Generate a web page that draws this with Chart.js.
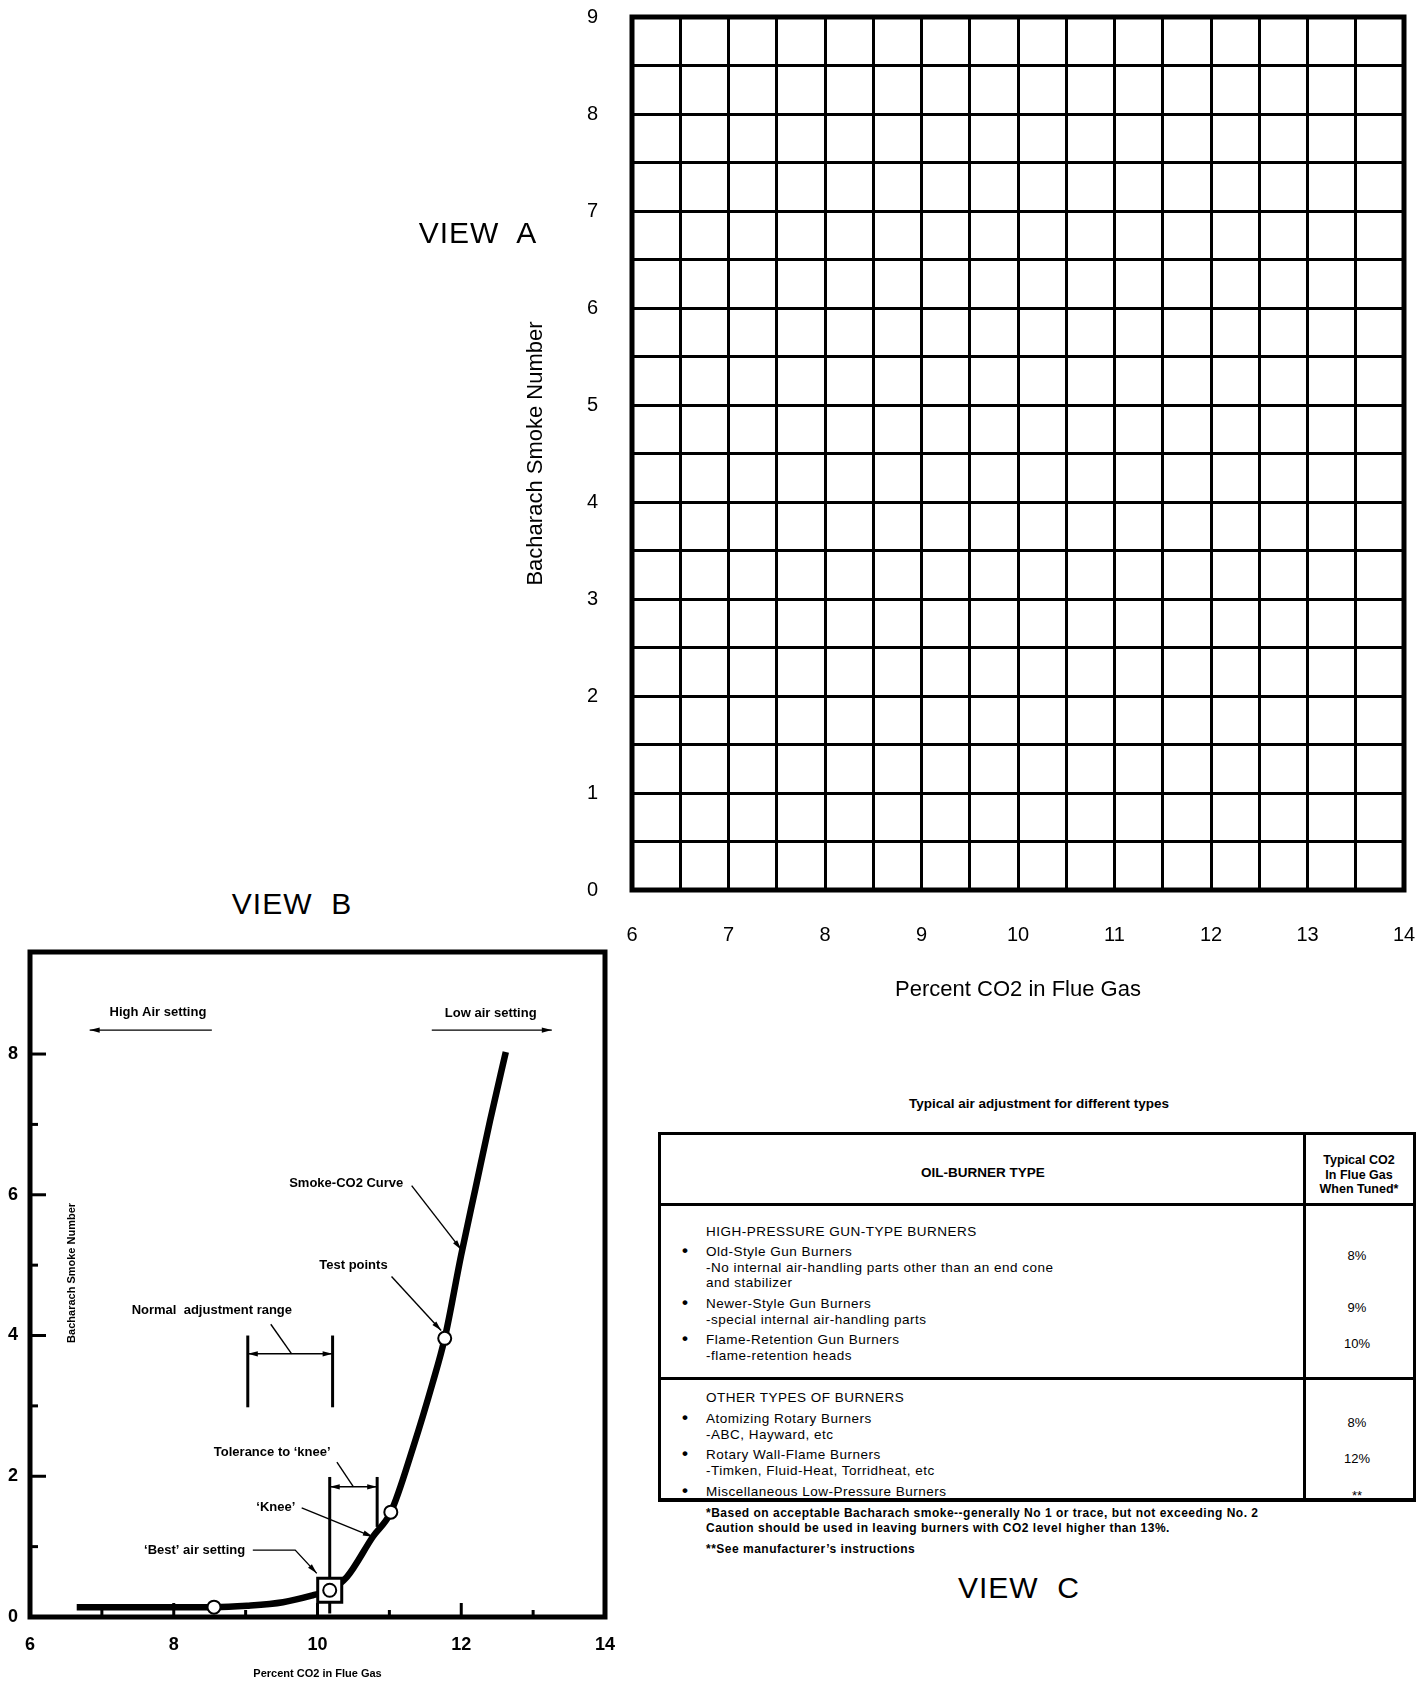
<!DOCTYPE html>
<html>
<head>
<meta charset="utf-8">
<title>Smoke-CO2 adjustment</title>
<script src="https://cdn.jsdelivr.net/npm/chart.js@4.4.1/dist/chart.umd.min.js"></script>
<style>
  body { margin:0; background:#fff; width:1425px; height:1685px; position:relative; overflow:hidden;
         font-family:"Liberation Sans", Arial, sans-serif; color:#000; }
  .view { position:absolute; font-size:30px; transform:translate(-50%,-50%); white-space:pre; letter-spacing:1px; }
  .t { position:absolute; white-space:pre; transform:translateY(-50%); font-size:13.5px; letter-spacing:0.5px; }
  .c { transform:translate(-50%,-50%); text-align:center; letter-spacing:0; }
  .b { font-weight:bold; }
  .line { position:absolute; background:#000; }
  #chartA { position:absolute; left:480px; top:0; }
  #chartB { position:absolute; left:0; top:930px; }
</style>
</head>
<body>
<canvas id="chartA" width="945" height="1010"></canvas>
<canvas id="chartB" width="640" height="755"></canvas>
<div class="view" style="left:478px;top:233px">VIEW  A</div>
<div class="view" style="left:292px;top:904px">VIEW  B</div>
<div class="view" style="left:1019px;top:1588px">VIEW  C</div>
<div id="table"></div>
<script>
// axis ticks
const co2Ticks = [6, 7, 8, 9, 10, 11, 12, 13, 14];
const smokeTicks = [0, 1, 2, 3, 4, 5, 6, 7, 8, 9];

// smoke-CO2 curve (view B)
const curveCo2   = [6.65, 8.56, 9.02, 9.52, 9.94, 10.17, 10.41, 10.77, 11.02, 11.33, 11.6, 11.77, 12.0, 12.2, 12.4, 12.62];
const curveSmoke = [0.14, 0.14, 0.16, 0.21, 0.31, 0.38, 0.57, 1.14, 1.49, 2.41, 3.32, 3.96, 5.15, 6.1, 7.05, 8.03];
const testCo2   = [8.56, 11.02, 11.77];
const testSmoke = [0.14, 1.49, 3.96];
const bestCo2   = [10.17];
const bestSmoke = [0.38];

// table (view C)
const tableTitle = 'Typical air adjustment for different types';
const groupNames = ['HIGH-PRESSURE GUN-TYPE BURNERS', 'OTHER TYPES OF BURNERS'];
const burnerNames = ['Old-Style Gun Burners', 'Newer-Style Gun Burners', 'Flame-Retention Gun Burners',
                     'Atomizing Rotary Burners', 'Rotary Wall-Flame Burners', 'Miscellaneous Low-Pressure Burners'];
const burnerNotes = [['-No internal air-handling parts other than an end cone', 'and stabilizer'],
                     ['-special internal air-handling parts'], ['-flame-retention heads'],
                     ['-ABC, Hayward, etc'], ['-Timken, Fluid-Heat, Torridheat, etc'], []];
const tunedCo2 = ['8%', '9%', '10%', '8%', '12%', '**'];
const footnotes = ['*Based on acceptable Bacharach smoke--generally No 1 or trace, but not exceeding No. 2',
                   'Caution should be used in leaving burners with CO2 level higher than 13%.',
                   '**See manufacturer\u2019s instructions'];

const FONT = '"Liberation Sans", Arial, sans-serif';
Chart.defaults.font.family = FONT;
Chart.defaults.color = '#000';

// frame round the plot area
const framePlugin = {
  id: 'frame',
  afterDraw(chart, args, opts) {
    const { left, top, right, bottom } = chart.chartArea;
    const ctx = chart.ctx;
    ctx.save();
    ctx.strokeStyle = '#000';
    ctx.lineWidth = opts.width || 5;
    ctx.strokeRect(left, top, right - left, bottom - top);
    ctx.restore();
  }
};

// ---------- VIEW A : empty grid ----------
new Chart(document.getElementById('chartA'), {
  type: 'scatter',
  data: { datasets: [] },
  plugins: [framePlugin],
  options: {
    responsive: false, animation: false, devicePixelRatio: 1,
    layout: { padding: { top: 17, right: 21, left: 0, bottom: 0 } },
    plugins: { legend: { display: false }, tooltip: { enabled: false }, frame: { width: 5 } },
    scales: {
      x: {
        type: 'linear', min: co2Ticks[0], max: co2Ticks[co2Ticks.length - 1],
        afterFit: s => { s.height = 120; s.paddingLeft = 0; s.paddingRight = 0; },
        grid: { color: '#000', lineWidth: 3, drawTicks: false },
        border: { display: false },
        ticks: { stepSize: 0.5, autoSkip: false, padding: 33, font: { size: 20 },
                 callback: v => co2Ticks.includes(v) ? v : '' },
        title: { display: true, text: 'Percent CO2 in Flue Gas', font: { size: 22 }, padding: { top: 0, bottom: 7 } }
      },
      y: {
        min: smokeTicks[0], max: smokeTicks[smokeTicks.length - 1],
        afterFit: s => { s.width = 152; s.paddingTop = 0; s.paddingBottom = 0; },
        grid: { color: '#000', lineWidth: 3, drawTicks: false },
        border: { display: false },
        ticks: { stepSize: 0.5, autoSkip: false, padding: 34, font: { size: 20 },
                 callback: v => smokeTicks.includes(v) ? v : '' },
        title: { display: true, text: 'Bacharach Smoke Number', font: { size: 22 }, padding: { top: 43, bottom: 0 } }
      }
    }
  }
});

// ---------- VIEW B : smoke-CO2 curve ----------
const notes = [
  { text: 'High Air setting', x: 7.78, y: 8.59 },
  { text: 'Low air setting', x: 12.41, y: 8.58 },
  { text: 'Smoke-CO2 Curve', x: 10.4, y: 6.16 },
  { text: 'Test points', x: 10.5, y: 4.99 },
  { text: 'Normal  adjustment range', x: 8.53, y: 4.36 },
  { text: 'Tolerance to \u2018knee\u2019', x: 9.37, y: 2.34 },
  { text: '\u2018Knee\u2019', x: 9.42, y: 1.56 },
  { text: '\u2018Best\u2019 air setting', x: 8.29, y: 0.95 }
];
const leaders = [
  { pts: [[8.53, 8.34], [6.83, 8.34]], end: true },
  { pts: [[11.59, 8.34], [13.26, 8.34]], end: true },
  { pts: [[11.31, 6.13], [12.0, 5.22]], end: true },
  { pts: [[11.03, 4.84], [11.72, 4.07]], end: true },
  { pts: [[9.35, 4.16], [9.64, 3.74]] },
  { pts: [[9.03, 3.74], [10.21, 3.74]], start: true, end: true },
  { pts: [[10.27, 2.2], [10.5, 1.85]] },
  { pts: [[10.17, 1.85], [10.83, 1.85]], start: true, end: true },
  { pts: [[9.78, 1.55], [10.77, 1.14]], end: true },
  { pts: [[9.1, 0.95], [9.69, 0.95], [9.99, 0.62]], end: true }
];
const brackets = [
  [[9.03, 4.0], [9.03, 2.98]],
  [[10.21, 4.0], [10.21, 2.98]],
  [[10.83, 1.99], [10.83, 1.28]],
  [[10.17, 1.99], [10.17, 0.4]],
  [[10.17, 0.22], [10.17, 0.05]]
];

function arrowHead(ctx, x1, y1, x2, y2) {
  const a = Math.atan2(y2 - y1, x2 - x1);
  const len = 10, w = 2.6;
  ctx.beginPath();
  ctx.moveTo(x2, y2);
  ctx.lineTo(x2 - len * Math.cos(a) + w * Math.sin(a), y2 - len * Math.sin(a) - w * Math.cos(a));
  ctx.lineTo(x2 - len * Math.cos(a) - w * Math.sin(a), y2 - len * Math.sin(a) + w * Math.cos(a));
  ctx.closePath();
  ctx.fill();
}

const notesPlugin = {
  id: 'notes',
  beforeDatasetsDraw(chart) {
    const { ctx, scales: { x, y } } = chart;
    ctx.save();
    ctx.strokeStyle = '#000';
    ctx.lineWidth = 3;
    brackets.forEach(b => {
      ctx.beginPath();
      ctx.moveTo(x.getPixelForValue(b[0][0]), y.getPixelForValue(b[0][1]));
      ctx.lineTo(x.getPixelForValue(b[1][0]), y.getPixelForValue(b[1][1]));
      ctx.stroke();
    });
    // inside ticks
    const a = chart.chartArea;
    for (let v = 1; v <= 8; v++) {
      const py = y.getPixelForValue(v);
      ctx.beginPath(); ctx.moveTo(a.left, py); ctx.lineTo(a.left + (v % 2 ? 8 : 16), py); ctx.stroke();
    }
    for (let v = 7; v <= 13; v++) {
      const px = x.getPixelForValue(v);
      ctx.beginPath(); ctx.moveTo(px, a.bottom); ctx.lineTo(px, a.bottom - (v % 2 ? 7 : 14)); ctx.stroke();
    }
    ctx.restore();
  },
  afterDatasetsDraw(chart) {
    const { ctx, scales: { x, y } } = chart;
    ctx.save();
    ctx.fillStyle = '#000';
    ctx.strokeStyle = '#000';
    ctx.lineWidth = 1.4;
    leaders.forEach(l => {
      const p = l.pts.map(q => [x.getPixelForValue(q[0]), y.getPixelForValue(q[1])]);
      ctx.beginPath();
      ctx.moveTo(p[0][0], p[0][1]);
      p.slice(1).forEach(q => ctx.lineTo(q[0], q[1]));
      ctx.stroke();
      const n = p.length - 1;
      if (l.end) arrowHead(ctx, p[n - 1][0], p[n - 1][1], p[n][0], p[n][1]);
      if (l.start) arrowHead(ctx, p[1][0], p[1][1], p[0][0], p[0][1]);
    });
    ctx.font = 'bold 13px ' + FONT;
    ctx.textAlign = 'center';
    ctx.textBaseline = 'middle';
    notes.forEach(n => ctx.fillText(n.text, x.getPixelForValue(n.x), y.getPixelForValue(n.y)));
    // y title sits inside the frame
    ctx.translate(chart.chartArea.left + 42, y.getPixelForValue(4.89));
    ctx.rotate(-Math.PI / 2);
    ctx.font = 'bold 11px ' + FONT;
    ctx.fillText('Bacharach Smoke Number', 0, 0);
    ctx.restore();
  }
};

const toXY = (xs, ys) => xs.map((v, i) => ({ x: v, y: ys[i] }));

new Chart(document.getElementById('chartB'), {
  type: 'line',
  data: {
    datasets: [
      { data: toXY(curveCo2, curveSmoke), borderColor: '#000', borderWidth: 6.5, pointRadius: 0,
        cubicInterpolationMode: 'monotone', borderCapStyle: 'butt', order: 3 },
      { data: toXY(bestCo2, bestSmoke), showLine: false, pointStyle: 'rect', pointRadius: 17,
        pointBackgroundColor: '#fff', pointBorderColor: '#000', pointBorderWidth: 3, order: 2 },
      { data: toXY(testCo2.concat(bestCo2), testSmoke.concat(bestSmoke)), showLine: false, pointRadius: 6.5,
        pointBackgroundColor: '#fff', pointBorderColor: '#000', pointBorderWidth: 2, order: 1 }
    ]
  },
  plugins: [framePlugin, notesPlugin],
  options: {
    responsive: false, animation: false, devicePixelRatio: 1,
    layout: { padding: { top: 22, right: 35, left: 0, bottom: 0 } },
    plugins: { legend: { display: false }, tooltip: { enabled: false }, frame: { width: 5 } },
    scales: {
      x: {
        type: 'linear', min: 6, max: 14,
        afterFit: s => { s.height = 68; s.paddingLeft = 0; s.paddingRight = 0; },
        grid: { display: false }, border: { display: false },
        ticks: { stepSize: 2, padding: 9, font: { size: 18, weight: 'bold' } },
        title: { display: true, text: 'Percent CO2 in Flue Gas', font: { size: 11, weight: 'bold' },
                 padding: { top: 0, bottom: 4 } }
      },
      y: {
        min: 0, max: 9.45,
        afterFit: s => { s.width = 30; s.paddingTop = 0; s.paddingBottom = 0; },
        grid: { display: false }, border: { display: false },
        ticks: { stepSize: 2, includeBounds: false, padding: 4, font: { size: 18, weight: 'bold' },
                 callback: v => (v % 2 === 0 ? v : '') }
      }
    }
  }
});

// ---------- VIEW C : table ----------
const tbl = document.getElementById('table');
function put(text, x, y, cls, size, extra) {
  const d = document.createElement('div');
  d.className = 't ' + (cls || '');
  d.style.left = x + 'px';
  d.style.top = y + 'px';
  if (size) d.style.fontSize = size + 'px';
  if (extra) Object.assign(d.style, extra);
  d.textContent = text;
  tbl.appendChild(d);
}
function rule(x, y, w, h) {
  const d = document.createElement('div');
  d.className = 'line';
  Object.assign(d.style, { left: x + 'px', top: y + 'px', width: w + 'px', height: h + 'px' });
  tbl.appendChild(d);
}
rule(658, 1132, 758, 3);
rule(658, 1498, 758, 4);
rule(658, 1132, 3, 369);
rule(1413, 1132, 3, 369);
rule(658, 1203, 758, 3);
rule(658, 1377, 758, 3);
rule(1303, 1132, 3, 369);

put(tableTitle, 1039, 1103, 'c b', 13.5);
put('OIL-BURNER TYPE', 983, 1172, 'c b', 13.5);
['Typical CO2', 'In Flue Gas', 'When Tuned*'].forEach((s, i) => put(s, 1359, 1160 + i * 14.5, 'c b', 12.5));

const groupY = [1231, 1397];
const rowY = [1251, 1303, 1339, 1418, 1454, 1491];
groupNames.forEach((g, i) => put(g, 706, groupY[i]));
burnerNames.forEach((name, i) => {
  put('\u2022', 682, rowY[i], 'b', 17);
  put(name, 706, rowY[i]);
  burnerNotes[i].forEach((n, j) => put(n, 706, rowY[i] + 16 + j * 14.5));
  put(tunedCo2[i], 1357, rowY[i] + 4, 'c', 13);
});
footnotes.forEach((f, i) => put(f, 706, [1513, 1528, 1549][i], 'b', 12, { letterSpacing: '0.5px' }));
</script>
</body>
</html>
